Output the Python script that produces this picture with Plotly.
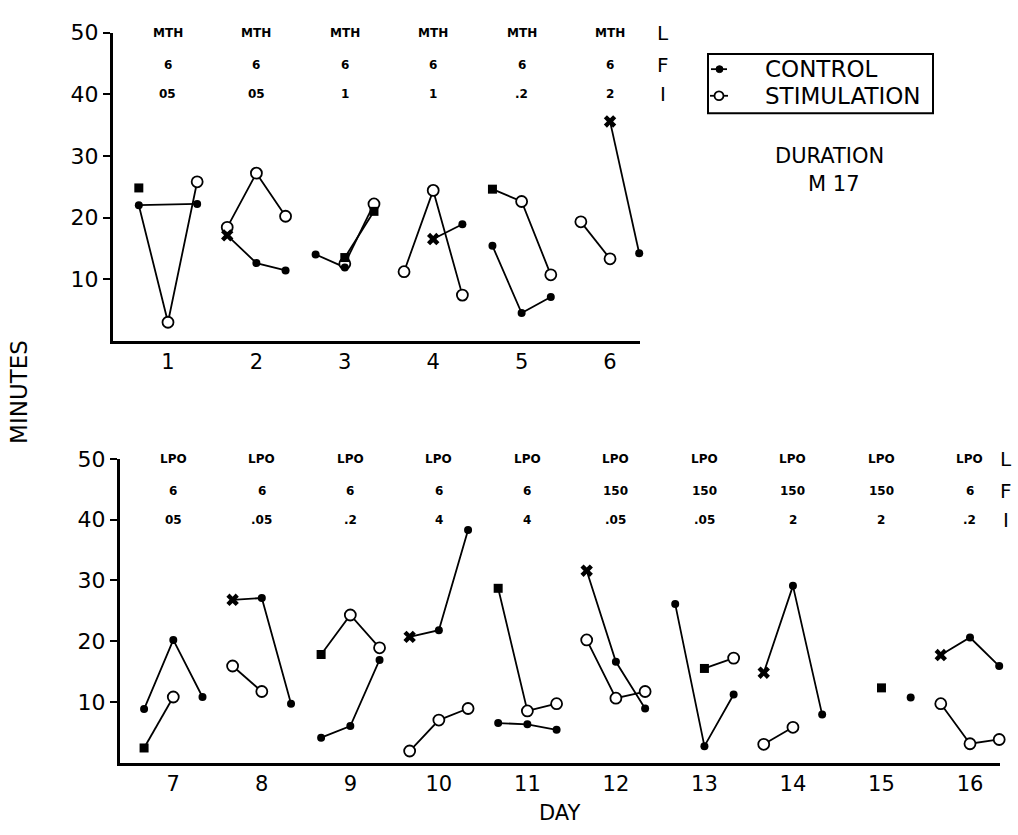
import plotly.graph_objects as go

# ---------------- data ----------------
DAYS_TOP = [1, 2, 3, 4, 5, 6]
CTRL_TOP = [[22.0, None, 22.2], [17.1, 12.6, 11.4], [14.0, 11.9, None],
            [None, 16.5, 18.9], [15.4, 4.5, 7.1], [None, 35.6, 14.2]]
STIM_TOP = [[22.0, 3.0, 25.8], [18.4, 27.2, 20.2], [None, 12.5, 22.2],
            [11.2, 24.4, 7.4], [24.6, 22.6, 10.7], [19.3, 13.3, None]]
XMARK_TOP = [(2, 0, 17.1), (4, 1, 16.5), (6, 1, 35.6)]
SQMARK_TOP = [(1, 0, 24.8), (3, 1, 13.5), (3, 2, 21.0), (5, 0, 24.6)]
LAB_L_TOP = ["MTH"] * 6
LAB_F_TOP = ["6"] * 6
LAB_I_TOP = ["05", "05", "1", "1", ".2", "2"]

DAYS_BOT = [7, 8, 9, 10, 11, 12, 13, 14, 15, 16]
CTRL_BOT = [[8.8, 20.2, 10.8], [26.8, 27.1, 9.7], [4.1, 6.0, 16.9], [20.7, 21.8, 38.3],
            [6.5, 6.3, 5.4], [31.6, 16.6, 8.9], [26.1, 2.7, 11.2], [14.8, 29.1, 7.9],
            [None, None, 10.7], [17.7, 20.6, 15.9]]
STIM_BOT = [[2.4, 10.8, None], [15.9, 11.7, None], [17.8, 24.3, 18.9], [1.9, 7.0, 8.9],
            [28.7, 8.5, 9.7], [20.2, 10.6, 11.7], [None, 15.5, 17.2], [3.0, 5.8, None],
            [None, 12.3, None], [9.7, 3.1, 3.8]]
XMARK_BOT = [(8, 0, 26.8), (10, 0, 20.7), (12, 0, 31.6), (14, 0, 14.8), (16, 0, 17.7)]
SQMARK_BOT = [(7, 0, 2.4), (9, 0, 17.8), (11, 0, 28.7), (13, 1, 15.5), (15, 1, 12.3)]
LAB_L_BOT = ["LPO"] * 10
LAB_F_BOT = ["6", "6", "6", "6", "6", "150", "150", "150", "150", "6"]
LAB_I_BOT = ["05", ".05", ".2", "4", "4", ".05", ".05", "2", "2", ".2"]

LEGEND_NAMES = ["CONTROL", "STIMULATION"]

SLOT = [-0.33, 0.0, 0.33]
FONT = "DejaVu Sans"
LW = 1.8
W, H = 1018, 835


def px(x):
    return x / W


def py(y):
    return 1 - y / H


fig = go.Figure()


def add_panel(days, ctrl, stim, xmarks, sqmarks, xref, yref):
    for series in (ctrl, stim):
        lx, ly = [], []
        for d, vals in zip(days, series):
            for s, v in enumerate(vals):
                if v is not None:
                    lx.append(d + SLOT[s]); ly.append(v)
            lx.append(None); ly.append(None)
        fig.add_trace(go.Scatter(x=lx, y=ly, mode="lines", xaxis=xref, yaxis=yref,
                                 line=dict(color="black", width=LW), showlegend=False,
                                 cliponaxis=False, hoverinfo="skip"))
    sx, sy = [], []
    for d in days:
        pts = [(s, v) for (dd, s, v) in sqmarks if dd == d]
        if len(pts) > 1:
            for s, v in pts:
                sx.append(d + SLOT[s]); sy.append(v)
            sx.append(None); sy.append(None)
    if sx:
        fig.add_trace(go.Scatter(x=sx, y=sy, mode="lines", xaxis=xref, yaxis=yref,
                                 line=dict(color="black", width=LW), showlegend=False,
                                 cliponaxis=False))
    xset = set(xmarks)
    sqset = set(sqmarks)
    cx, cy = [], []
    for d, cv, sv in zip(days, ctrl, stim):
        for s, v in enumerate(sv):
            if v is None or (d, s, v) in sqset or cv[s] == v:
                continue
            cx.append(d + SLOT[s]); cy.append(v)
    fig.add_trace(go.Scatter(x=cx, y=cy, mode="markers", xaxis=xref, yaxis=yref,
                             marker=dict(symbol="circle", size=11, color="white",
                                         line=dict(color="black", width=1.8)),
                             showlegend=False, cliponaxis=False))
    dx, dy = [], []
    for d, cv in zip(days, ctrl):
        for s, v in enumerate(cv):
            if v is None or (d, s, v) in xset:
                continue
            dx.append(d + SLOT[s]); dy.append(v)
    fig.add_trace(go.Scatter(x=dx, y=dy, mode="markers", xaxis=xref, yaxis=yref,
                             marker=dict(symbol="circle", size=8, color="black"),
                             showlegend=False, cliponaxis=False))
    fig.add_trace(go.Scatter(x=[d + SLOT[s] for d, s, v in xmarks], y=[v for d, s, v in xmarks],
                             mode="markers", xaxis=xref, yaxis=yref,
                             marker=dict(symbol="x", size=11, color="black"),
                             showlegend=False, cliponaxis=False))
    fig.add_trace(go.Scatter(x=[d + SLOT[s] for d, s, v in sqmarks], y=[v for d, s, v in sqmarks],
                             mode="markers", xaxis=xref, yaxis=yref,
                             marker=dict(symbol="square", size=9, color="black"),
                             showlegend=False, cliponaxis=False))


add_panel(DAYS_TOP, CTRL_TOP, STIM_TOP, XMARK_TOP, SQMARK_TOP, "x", "y")
add_panel(DAYS_BOT, CTRL_BOT, STIM_BOT, XMARK_BOT, SQMARK_BOT, "x2", "y2")

annotations = []


def ann(x, y, text, size, xref="paper", yref="paper", **kw):
    d = dict(x=x, y=y, xref=xref, yref=yref, text=text, showarrow=False,
             xanchor="center", yanchor="middle",
             font=dict(family=FONT, size=size, color="black"))
    d.update(kw)
    annotations.append(d)


def day_labels(days, L, F, I, xref, yref):
    for d, a, b, c in zip(days, L, F, I):
        for txt, yv in ((a, 50.0), (b, 44.8), (c, 40.0)):
            ann(d, yv, "<b>%s</b>" % txt, 12, xref=xref, yref=yref)


day_labels(DAYS_TOP, LAB_L_TOP, LAB_F_TOP, LAB_I_TOP, "x", "y")
day_labels(DAYS_BOT, LAB_L_BOT, LAB_F_BOT, LAB_I_BOT, "x2", "y2")

for txt, yv in (("L", 50.0), ("F", 44.8), ("I", 40.0)):
    ann(px(663), yv, txt, 20, yref="y")
    ann(px(1006), yv, txt, 20, yref="y2")

ann(px(829), py(146), "DURATION", 21)
ann(px(834), py(175), "M 17", 21)
ann(px(19.5), py(386), "MINUTES", 23, textangle=-90)
ann(px(560), py(813), "DAY", 21)

shapes = [
    dict(type="rect", xref="paper", yref="paper", x0=px(708), x1=px(933), y0=py(102.7), y1=py(42.7),
         line=dict(color="black", width=2), fillcolor="rgba(0,0,0,0)"),
    dict(type="line", xref="paper", yref="paper", x0=px(711), x1=px(727), y0=py(58), y1=py(58),
         line=dict(color="black", width=LW)),
    dict(type="circle", xref="paper", yref="paper", x0=px(716), x1=px(723), y0=py(61.5), y1=py(54.5),
         line=dict(color="black", width=1), fillcolor="black"),
    dict(type="line", xref="paper", yref="paper", x0=px(710), x1=px(728), y0=py(85), y1=py(85),
         line=dict(color="black", width=LW)),
    dict(type="circle", xref="paper", yref="paper", x0=px(714.5), x1=px(723.5), y0=py(89.5), y1=py(80.5),
         line=dict(color="black", width=1.8), fillcolor="white"),
]
ann(px(763), py(58), LEGEND_NAMES[0], 23, xanchor="left")
ann(px(763), py(85), LEGEND_NAMES[1], 23, xanchor="left")

yax = dict(range=[0, 50], tickvals=[10, 20, 30, 40, 50], showline=True, linewidth=3,
           linecolor="black", ticks="outside", ticklen=7, tickwidth=2, tickcolor="black",
           showgrid=False, zeroline=False, tickfont=dict(family=FONT, size=22, color="black"))
xax = dict(showline=True, linewidth=3, linecolor="black", ticks="", showgrid=False,
           zeroline=False, tickfont=dict(family=FONT, size=21, color="black"))

fig.update_layout(
    width=W, height=H, margin=dict(l=0, r=0, t=0, b=0),
    paper_bgcolor="white", plot_bgcolor="white",
    xaxis=dict(xax, domain=[px(113), px(640)], range=[0.378, 6.339],
               tickvals=DAYS_TOP, anchor="y"),
    yaxis=dict(yax, domain=[py(333.5), py(21)], anchor="x"),
    xaxis2=dict(xax, domain=[px(120), px(1000)], range=[6.398, 16.339],
                tickvals=DAYS_BOT, anchor="y2"),
    yaxis2=dict(yax, domain=[py(761.5), py(453.5)], anchor="x2"),
    annotations=annotations,
    shapes=shapes,
    showlegend=False,
    font=dict(family=FONT, color="black"),
)

fig.write_html("out.html")
